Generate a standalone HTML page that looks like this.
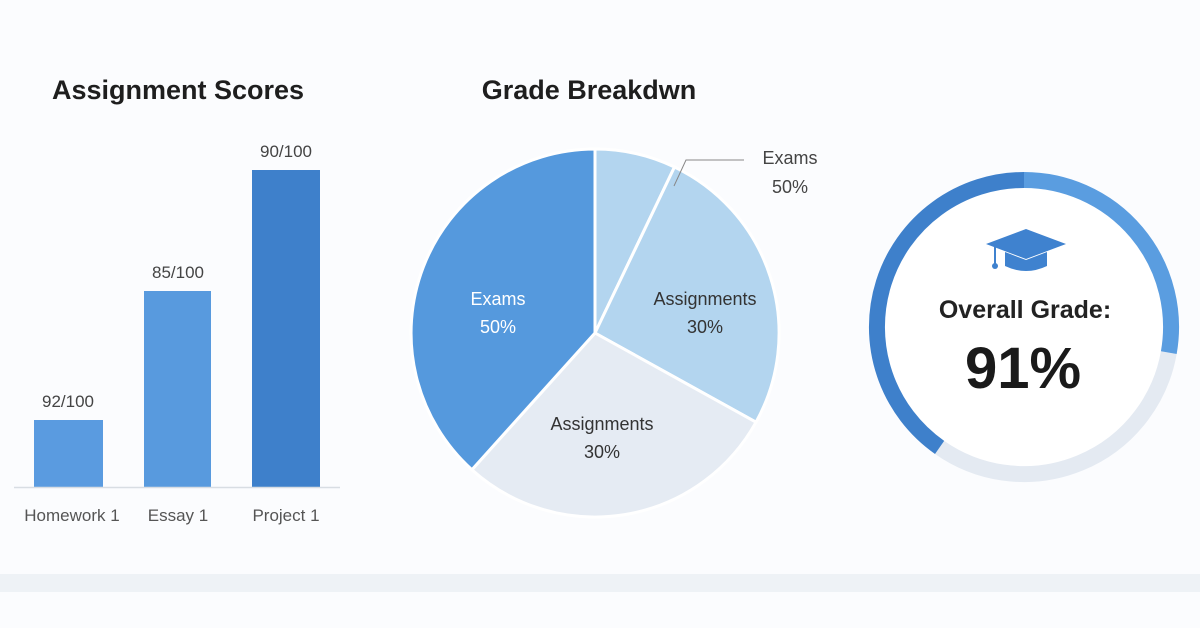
<!DOCTYPE html>
<html><head><meta charset="utf-8"><style>
html,body{margin:0;padding:0;background:#fbfcfe;}
svg{display:block;}
text{font-family:"Liberation Sans",sans-serif;}
</style></head><body>
<svg width="1200" height="628" viewBox="0 0 1200 628" xmlns="http://www.w3.org/2000/svg">
<rect width="1200" height="628" fill="#fbfcfe"/>
<rect x="0" y="574" width="1200" height="18" fill="#eef2f6"/>
<!-- Bar chart -->
<text x="178" y="99" text-anchor="middle" font-size="27" font-weight="bold" fill="#1e1e1e">Assignment Scores</text>
<rect x="34" y="420" width="69" height="67" fill="#5a9be0"/>
<rect x="144" y="291" width="67" height="196" fill="#589ade"/>
<rect x="252" y="170" width="68" height="317" fill="#3e80cb"/>
<line x1="14" y1="487.5" x2="340" y2="487.5" stroke="#d8dde3" stroke-width="1.5"/>
<text x="68" y="407" text-anchor="middle" font-size="17" fill="#444">92/100</text>
<text x="178" y="278" text-anchor="middle" font-size="17" fill="#444">85/100</text>
<text x="286" y="157" text-anchor="middle" font-size="17" fill="#444">90/100</text>
<text x="72" y="521" text-anchor="middle" font-size="17" fill="#555">Homework 1</text>
<text x="178" y="521" text-anchor="middle" font-size="17" fill="#555">Essay 1</text>
<text x="286" y="521" text-anchor="middle" font-size="17" fill="#555">Project 1</text>
<!-- Pie -->
<text x="589" y="99" text-anchor="middle" font-size="27" font-weight="bold" fill="#1e1e1e">Grade Breakdwn</text>
<g stroke="#fff" stroke-width="3" stroke-linejoin="round">
<path d="M595,333 L595,149 A184,184 0 0 1 674.5,167 Z" fill="#b3d5ef"/>
<path d="M595,333 L674.5,167 A184,184 0 0 1 756,422.2 Z" fill="#b3d5ef"/>
<path d="M595,333 L756,422.2 A184,184 0 0 1 471.9,469.7 Z" fill="#e5ebf3"/>
<path d="M595,333 L471.9,469.7 A184,184 0 0 1 595,149 Z" fill="#5599dd"/>
</g>
<polyline points="674,186 686,160 744,160" fill="none" stroke="#888" stroke-width="1"/>
<text x="790" y="164" text-anchor="middle" font-size="18" fill="#444">Exams</text>
<text x="790" y="193" text-anchor="middle" font-size="18" fill="#444">50%</text>
<text x="498" y="305" text-anchor="middle" font-size="18" fill="#fff">Exams</text>
<text x="498" y="333" text-anchor="middle" font-size="18" fill="#fff">50%</text>
<text x="705" y="305" text-anchor="middle" font-size="18" fill="#333">Assignments</text>
<text x="705" y="333" text-anchor="middle" font-size="18" fill="#333">30%</text>
<text x="602" y="430" text-anchor="middle" font-size="18" fill="#333">Assignments</text>
<text x="602" y="458" text-anchor="middle" font-size="18" fill="#333">30%</text>
<!-- Ring -->
<circle cx="1024" cy="327" r="154" fill="#fff"/>
<g fill="none" stroke-width="16">
<path d="M1168.8,352.6 A147,147 0 0 1 939.6,447.4" stroke="#e4eaf2"/>
<path d="M1024,180 A147,147 0 0 1 1168.8,352.6" stroke="#5a9de0"/>
<path d="M939.6,447.4 A147,147 0 0 1 1024,180" stroke="#3e80cb"/>
</g>
<!-- cap -->
<g fill="#3f82cf">
<polygon points="1026,229 1066,244 1026,259 986,244"/>
<path d="M1005,252 L1005,266 Q1026,276 1047,266 L1047,252 L1026,260 Z"/>
<rect x="994" y="246" width="2" height="18"/>
<circle cx="995" cy="266" r="3"/>
</g>
<text x="1025" y="318" text-anchor="middle" font-size="25" font-weight="bold" fill="#222">Overall Grade:</text>
<text x="1023" y="388" text-anchor="middle" font-size="58" font-weight="bold" fill="#1a1a1a">91%</text>
</svg>
</body></html>
